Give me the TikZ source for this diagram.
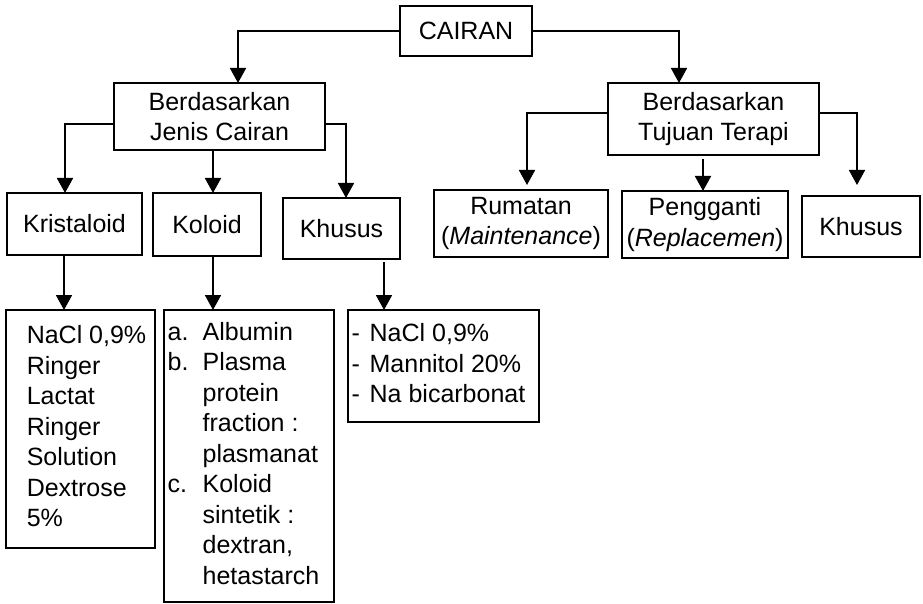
\documentclass[tikz,border=0pt]{standalone}
\usepackage{fontspec}
\setmainfont{Liberation Sans}
\usetikzlibrary{arrows.meta}
\begin{document}
\begin{tikzpicture}[x=1pt,y=-1pt,
  box/.style={draw, line width=1.6pt, inner sep=0pt, outer sep=0pt,
    align=center, font=\fontsize{25}{30.5}\selectfont},
  arr/.style={line width=1.8pt, -{Triangle[width=16pt,length=15pt]}},
]
\useasboundingbox (0,0) rectangle (923,604);

% top level
\node[box, minimum width=132pt, minimum height=50pt] (cair) at (466,31) {CAIRAN};

% second level
\node[box, minimum width=211pt, minimum height=67pt] (jenis) at (219.5,116.5)
  {Berdasarkan\\Jenis Cairan};
\node[box, minimum width=211pt, minimum height=72pt] (tuj) at (713.5,119)
  {Berdasarkan\\Tujuan Terapi};

% third level, left branch
\node[box, minimum width=135pt, minimum height=62pt] (krist) at (74.5,224) {Kristaloid};
\node[box, minimum width=108pt, minimum height=63pt] (kol) at (207,224.5) {Koloid};
\node[box, minimum width=117pt, minimum height=61pt] (khus) at (341.5,228.5) {Khusus};

% third level, right branch
\node[box, minimum width=174pt, minimum height=67pt] (rum) at (521,223.5)
  {Rumatan\\(\textit{Maintenance})};
\node[box, minimum width=166pt, minimum height=67pt] (peng) at (705,224.5)
  {Pengganti\\(\textit{Replacemen})};
\node[box, minimum width=118pt, minimum height=61pt] (kh2) at (861,226.5) {Khusus};

% fourth level lists
\node[box, minimum width=149pt, minimum height=238pt] (l1) at (80.5,429)
  {\begin{tabular}{@{\hspace{12pt}}l@{}}
   NaCl 0,9\%\\ Ringer\\ Lactat\\ Ringer\\ Solution\\ Dextrose\\ 5\%
   \end{tabular}};
\node[box, minimum width=170pt, minimum height=292pt] (l2) at (249,456)
  {\begin{tabular}{@{}l@{}l@{\hspace{11pt}}}
   \makebox[35pt][l]{a.} & Albumin\\
   \makebox[35pt][l]{b.} & Plasma\\
    & protein\\
    & fraction :\\
    & plasmanat\\
   \makebox[35pt][l]{c.} & Koloid\\
    & sintetik :\\
    & dextran,\\
    & hetastarch
   \end{tabular}};
\node[box, minimum width=191pt, minimum height=112pt] (l3) at (443.5,366)
  {\begin{tabular}{@{}l@{}l@{\hspace{10pt}}}
   \makebox[18pt][l]{-} & NaCl 0,9\%\\
   \makebox[18pt][l]{-} & Mannitol 20\%\\
   \makebox[18pt][l]{-} & Na bicarbonat
   \end{tabular}};

% connectors from the root
\draw[arr] (cair.west) -| ([xshift=18.5pt]jenis.north);
\draw[arr] (cair.east) -| ([xshift=-34.5pt]tuj.north);

% connectors of the left branch
\draw[arr] ([yshift=-7.5pt]jenis.west) -| ([xshift=-9.5pt]krist.north);
\draw[arr] ([xshift=-6.5pt]jenis.south) -- ([xshift=6pt]kol.north);
\draw[arr] ([yshift=-7.5pt]jenis.east) -| ([xshift=4.5pt]khus.north);

% connectors of the right branch
\draw[arr, shorten >=5pt] ([yshift=6pt]tuj.west) -| ([xshift=6pt]rum.north);
\draw[arr, shorten <=4pt] ([xshift=-10.5pt]tuj.south) -- ([xshift=-2pt]peng.north);
\draw[arr, shorten >=11pt] ([yshift=6pt]tuj.east) -| ([xshift=-4pt]kh2.north);

% connectors to the lists
\draw[arr] ([xshift=-10.5pt]krist.south) -- ([xshift=-16.5pt]l1.north);
\draw[arr] ([xshift=6pt]kol.south) -- ([xshift=-36pt]l2.north);
\draw[arr, shorten <=3pt] ([xshift=42.5pt]khus.south) -- ([xshift=-59.5pt]l3.north);
\end{tikzpicture}
\end{document}
